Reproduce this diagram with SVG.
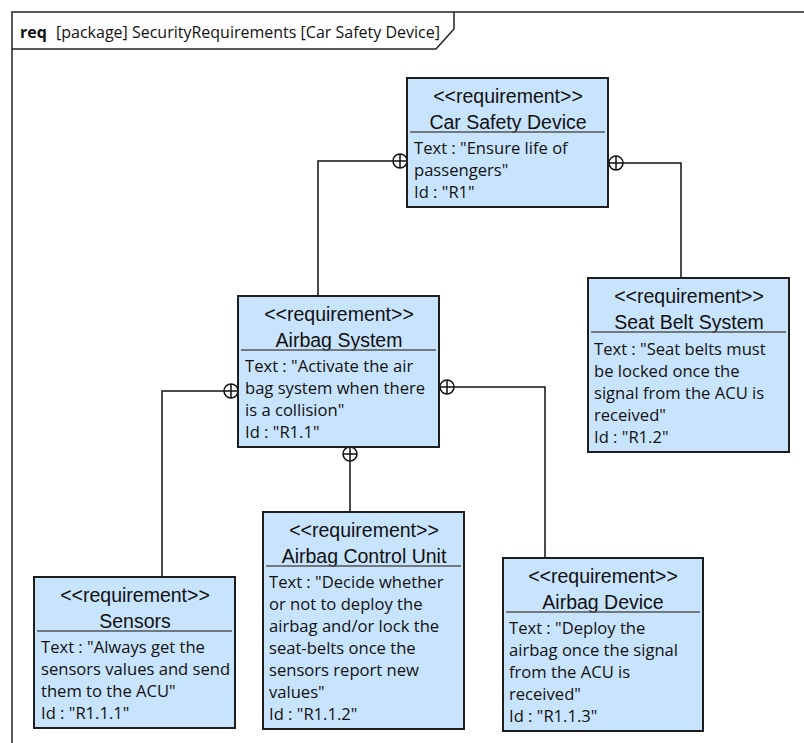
<svg xmlns="http://www.w3.org/2000/svg" width="804" height="743" viewBox="0 0 804 743">
<style>
.frame{fill:none;stroke:#222;stroke-width:1.5}
.box{fill:#c8e3fc;stroke:#1e1e1e;stroke-width:2}
.sep{stroke:#555;stroke-width:1.5}
.st{font-family:"Liberation Sans",Arial,sans-serif;font-size:19.5px;fill:#111;text-anchor:middle}
.nm{font-family:"Liberation Sans",Arial,sans-serif;font-size:19.5px;fill:#111;text-anchor:middle}
.tx{font-family:"Open Sans","Noto Sans",sans-serif;font-size:16.6px;fill:#111}
.hd{font-family:"Open Sans","Noto Sans",sans-serif;font-size:16px;fill:#111}
.conn{fill:none;stroke:#111;stroke-width:1.5}
.own{fill:#fff;stroke:#111;stroke-width:1.5}
</style>
<defs>
<g id="plus"><circle r="7" class="own"/><path d="M-7 0H7M0 -7V7" stroke="#111" stroke-width="1.5"/></g>
</defs>
<rect width="804" height="743" fill="#fff"/>
<g id="frame">
<path class="frame" d="M12 743V12H804"/>
<path class="frame" d="M12 49H436L454 29V12"/>
<text x="20" y="38" class="hd"><tspan font-weight="bold">req</tspan><tspan x="56">[package] SecurityRequirements [Car Safety Device]</tspan></text>
</g>
<g id="connectors">
<path class="conn" d="M393 161H318V296"/>
<use href="#plus" x="400" y="161"/>
<path class="conn" d="M623 163H681V278"/>
<use href="#plus" x="616" y="163"/>
<path class="conn" d="M224 391H162V577"/>
<use href="#plus" x="231" y="391"/>
<path class="conn" d="M350 461V512"/>
<use href="#plus" x="350" y="454"/>
<path class="conn" d="M454 387H545V558"/>
<use href="#plus" x="447" y="387"/>
</g>
<g id="car-safety-device">
<rect class="box" x="407" y="78" width="201" height="129"/>
<text class="st" x="508" y="103">&lt;&lt;requirement&gt;&gt;</text>
<text class="nm" x="508" y="129">Car Safety Device</text>
<line class="sep" x1="410" y1="132" x2="605" y2="132"/>
<text class="tx" x="414"><tspan x="414" y="154">Text : "Ensure life of</tspan><tspan x="414" y="176">passengers"</tspan><tspan x="414" y="198">Id : "R1"</tspan></text>
</g>
<g id="airbag-system">
<rect class="box" x="238" y="296" width="201" height="151"/>
<text class="st" x="339" y="321">&lt;&lt;requirement&gt;&gt;</text>
<text class="nm" x="339" y="347">Airbag System</text>
<line class="sep" x1="241" y1="350" x2="436" y2="350"/>
<text class="tx"><tspan x="245" y="372">Text : "Activate the air</tspan><tspan x="245" y="394">bag system when there</tspan><tspan x="245" y="416">is a collision"</tspan><tspan x="245" y="438">Id : "R1.1"</tspan></text>
</g>
<g id="seat-belt-system">
<rect class="box" x="588" y="278" width="201" height="174"/>
<text class="st" x="689" y="303">&lt;&lt;requirement&gt;&gt;</text>
<text class="nm" x="689" y="329">Seat Belt System</text>
<line class="sep" x1="591" y1="332" x2="786" y2="332"/>
<text class="tx"><tspan x="594" y="355">Text : "Seat belts must</tspan><tspan x="594" y="377">be locked once the</tspan><tspan x="594" y="399">signal from the ACU is</tspan><tspan x="594" y="421">received"</tspan><tspan x="594" y="443">Id : "R1.2"</tspan></text>
</g>
<g id="sensors">
<rect class="box" x="34" y="577" width="201" height="151"/>
<text class="st" x="135" y="602">&lt;&lt;requirement&gt;&gt;</text>
<text class="nm" x="135" y="628">Sensors</text>
<line class="sep" x1="37" y1="631" x2="232" y2="631"/>
<text class="tx"><tspan x="41" y="653">Text : "Always get the</tspan><tspan x="41" y="675">sensors values and send</tspan><tspan x="41" y="697">them to the ACU"</tspan><tspan x="41" y="719">Id : "R1.1.1"</tspan></text>
</g>
<g id="airbag-control-unit">
<rect class="box" x="263" y="512" width="201" height="217"/>
<text class="st" x="364" y="537">&lt;&lt;requirement&gt;&gt;</text>
<text class="nm" x="364" y="563">Airbag Control Unit</text>
<line class="sep" x1="266" y1="566" x2="461" y2="566"/>
<text class="tx"><tspan x="269" y="588">Text : "Decide whether</tspan><tspan x="269" y="610">or not to deploy the</tspan><tspan x="269" y="632">airbag and/or lock the</tspan><tspan x="269" y="654">seat-belts once the</tspan><tspan x="269" y="676">sensors report new</tspan><tspan x="269" y="698">values"</tspan><tspan x="269" y="720">Id : "R1.1.2"</tspan></text>
</g>
<g id="airbag-device">
<rect class="box" x="503" y="558" width="200" height="173"/>
<text class="st" x="603" y="583">&lt;&lt;requirement&gt;&gt;</text>
<text class="nm" x="603" y="609">Airbag Device</text>
<line class="sep" x1="506" y1="612" x2="700" y2="612"/>
<text class="tx"><tspan x="509" y="634">Text : "Deploy the</tspan><tspan x="509" y="656">airbag once the signal</tspan><tspan x="509" y="678">from the ACU is</tspan><tspan x="509" y="700">received"</tspan><tspan x="509" y="722">Id : "R1.1.3"</tspan></text>
</g>
</svg>
